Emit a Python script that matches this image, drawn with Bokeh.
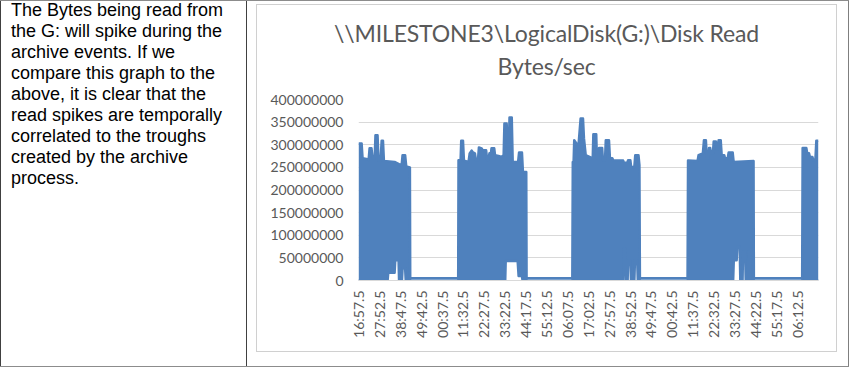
import math
from bokeh.plotting import figure
from bokeh.layouts import row, column
from bokeh.models import Div, Spacer, FixedTicker, BasicTickFormatter
from bokeh.embed import file_html
from bokeh.resources import INLINE

# ---------------- data ----------------
title_lines = ["\\\\MILESTONE3\\LogicalDisk(G:)\\Disk Read", "Bytes/sec"]
note_lines = [
    "The Bytes being read from",
    "the G: will spike during the",
    "archive events. If we",
    "compare this graph to the",
    "above, it is clear that the",
    "read spikes are temporally",
    "correlated to the troughs",
    "created by the archive",
    "process.",
]

# category axis: one sample every 5 s, a label every 131 samples
n_samples = 2886
label_step = 131
time_labels = ["16:57.5", "27:52.5", "38:47.5", "49:42.5", "00:37.5", "11:32.5",
               "22:27.5", "33:22.5", "44:17.5", "55:12.5", "06:07.5", "17:02.5",
               "27:57.5", "38:52.5", "49:47.5", "00:42.5", "11:37.5", "22:32.5",
               "33:27.5", "44:22.5", "55:17.5", "06:12.5"]
y_ticks = [0, 50e6, 100e6, 150e6, 200e6, 250e6, 300e6, 350e6, 400e6]

# upper envelope of the read-rate spikes (sample index, MB/s)
hi_idx = [0, 19, 25, 57, 63, 69, 81, 88, 101, 106, 119, 125, 138, 145, 153, 159, 226, 244, 270, 276, 292, 299, 322, 324, 625,
          627, 640, 644, 655, 661, 690, 697, 709, 718, 730, 736, 749, 755, 772, 778, 800, 807, 815, 821, 830, 834, 851, 856, 878,
          898, 910, 915, 929, 935, 943, 947, 961, 967, 1001, 1007, 1025, 1031, 1052, 1054, 1341,
          1344, 1349, 1353, 1372, 1380, 1393, 1408, 1414, 1425, 1469, 1473, 1491, 1495, 1504, 1509, 1528, 1533, 1546, 1551,
          1571, 1577, 1592, 1598, 1660, 1665, 1686, 1691, 1705, 1710, 1730, 1736, 1756, 1762, 1765, 2064,
          2067, 2127, 2133, 2160, 2167, 2179, 2185, 2194, 2199, 2206, 2211, 2223, 2228, 2242, 2247, 2253, 2259, 2272, 2278,
          2294, 2299, 2316, 2322, 2347, 2353, 2478, 2480, 2783,
          2786, 2809, 2815, 2826, 2832, 2847, 2853, 2866, 2872, 2885]
hi_mb = [303, 303, 270, 268, 266, 292, 292, 270, 270, 321, 321, 266, 266, 309, 309, 264, 262, 259, 254, 277, 277, 252, 250, 5, 5,
         266, 266, 309, 309, 265, 262, 281, 287, 283, 281, 266, 266, 294, 292, 288, 288, 266, 266, 281, 281, 292, 292, 277, 275,
         273, 277, 347, 347, 296, 296, 360, 360, 262, 262, 283, 283, 240, 240, 5, 5,
         262, 262, 310, 300, 300, 358, 358, 314, 277, 270, 323, 323, 270, 270, 293, 293, 266, 266, 310,
         310, 270, 270, 265, 265, 260, 260, 266, 266, 251, 251, 277, 277, 255, 5, 5,
         265, 264, 277, 281, 310, 310, 270, 270, 293, 293, 281, 281, 307, 307, 290, 290, 310, 310, 277,
         277, 270, 270, 283, 283, 262, 264, 5, 5,
         293, 293, 281, 281, 273, 273, 266, 266, 309, 309]

# lower envelope of the spikes (sample index, MB/s)
lo_idx = [0, 182, 186, 226, 230, 251, 254, 272, 276, 292, 296, 322, 324, 625,
          627, 920, 923, 998, 1004, 1025, 1029, 1052, 1054, 1341,
          1344, 1661, 1665, 1674, 1678, 1688, 1691, 1705, 1709, 1730, 1734, 1748, 1752, 1762, 1765, 2064,
          2067, 2350, 2354, 2372, 2376, 2391, 2395, 2409, 2412, 2425, 2429, 2443, 2446, 2454, 2458, 2478, 2480, 2783,
          2786, 2885]
lo_mb = [0, 0, 17, 17, 45, 45, 0, 0, 27, 27, 0, 0, 5, 5,
         0, 0, 43, 43, 10, 10, 0, 0, 5, 5,
         0, 0, 71, 71, 0, 0, 45, 45, 0, 0, 45, 45, 0, 0, 5, 5,
         0, 0, 45, 45, 75, 75, 0, 0, 64, 64, 0, 0, 64, 64, 0, 0, 5, 5,
         0, 0]

# ---------------- styling ----------------
BLUE = "#4f81bd"
GRID = "#d9d9d9"
BOX = "#d0d0d0"
TXT = "#595959"
DARK = "#404040"
MID = "#8c8c8c"
RIGHT = "#7f7f7f"
FONT = "Lato"

hi_y = [v * 1e6 for v in hi_mb]
lo_y = [v * 1e6 for v in lo_mb]

TITLE_H = 80
FIG_H = 346 - TITLE_H

p = figure(width=579, height=FIG_H, x_range=(-0.5, n_samples - 0.5), y_range=(0, 400e6),
           output_backend="svg", toolbar_location=None,
           min_border_left=101, min_border_right=18, min_border_top=14,
           min_border_bottom=FIG_H - 14 - 181)
p.outline_line_color = None
p.background_fill_color = "white"
p.border_fill_color = "white"

p.patch(x=hi_idx + lo_idx[::-1], y=hi_y + lo_y[::-1], fill_color=BLUE, line_color=None)
p.line(hi_idx, hi_y, line_color=BLUE, line_width=2.5, line_join="round")
p.line(lo_idx, lo_y, line_color=BLUE, line_width=2.5, line_join="round")

p.xgrid.visible = False
p.ygrid.ticker = FixedTicker(ticks=y_ticks)
p.ygrid.grid_line_color = GRID
p.ygrid.grid_line_width = 1

p.yaxis.ticker = FixedTicker(ticks=y_ticks)
p.yaxis.formatter = BasicTickFormatter(use_scientific=False)
p.yaxis.axis_line_color = None
p.yaxis.major_tick_line_color = None
p.yaxis.minor_tick_line_color = None
p.yaxis.major_tick_out = 0
p.yaxis.major_tick_in = 0
p.yaxis.major_label_text_font = FONT
p.yaxis.major_label_text_font_size = "14px"
p.yaxis.major_label_text_color = TXT
p.yaxis.major_label_standoff = 15

x_ticks = [i * label_step for i in range(len(time_labels))]
p.xaxis.ticker = FixedTicker(ticks=x_ticks)
p.xaxis.major_label_overrides = {t: lab for t, lab in zip(x_ticks, time_labels)}
p.xaxis.major_label_orientation = math.pi / 2
p.xaxis.axis_line_color = GRID
p.xaxis.major_tick_line_color = None
p.xaxis.minor_tick_line_color = None
p.xaxis.major_tick_out = 0
p.xaxis.major_tick_in = 0
p.xaxis.major_label_text_font = FONT
p.xaxis.major_label_text_font_size = "14px"
p.xaxis.major_label_text_color = TXT
p.xaxis.major_label_standoff = 10


def bar(w, h, color):
    return Spacer(width=w, height=h, margin=0, styles={"background-color": color})


def gap(w, h):
    return Spacer(width=w, height=h, margin=0)


title_div = Div(
    text=(f'<div style="width:579px;height:{TITLE_H}px;box-sizing:border-box;padding-top:12px;'
          f'text-align:center;font-family:{FONT};font-size:23px;letter-spacing:-0.15px;line-height:33px;'
          f'color:{TXT};white-space:nowrap;">' + "<br>".join(title_lines) + "</div>"),
    width=579, height=TITLE_H, margin=0)

note_div = Div(
    text=('<div style="width:245px;height:365px;box-sizing:border-box;padding-left:10px;'
          "position:relative;top:-1px;"
          "font-family:'Liberation Sans',Arial,sans-serif;font-size:18px;line-height:21px;"
          'color:#000;white-space:nowrap;">' + "<br>".join(note_lines) + "</div>"),
    width=245, height=365, margin=0)

chart_box = column(
    bar(581, 1, BOX),
    row(bar(1, 346, BOX), column(title_div, p, spacing=0), bar(1, 346, BOX), spacing=0),
    bar(581, 1, BOX),
    spacing=0)

right_cell = column(gap(581, 3), chart_box, gap(581, 14), spacing=0)

layout = column(
    bar(849, 1, MID),
    row(bar(1, 365, DARK), note_div, bar(1, 365, DARK), gap(9, 365),
        right_cell, gap(11, 365), bar(1, 365, RIGHT), spacing=0),
    bar(849, 1, MID),
    spacing=0)

open("out.html", "w").write(file_html(layout, INLINE))
